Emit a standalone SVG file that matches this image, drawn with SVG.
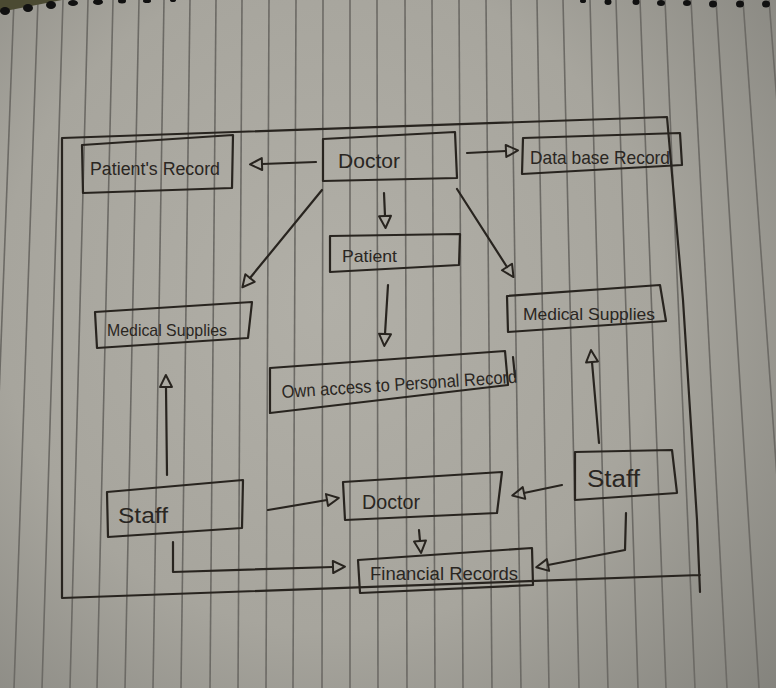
<svg xmlns="http://www.w3.org/2000/svg" width="776" height="688" viewBox="0 0 776 688">
<style>
.ink{fill:none;stroke:#28241f;stroke-width:2.2;stroke-linejoin:round;stroke-linecap:round}
.rule{stroke:#6c6a65;stroke-width:1.6}
.lbl{font-family:"Liberation Sans","DejaVu Sans",sans-serif;fill:#2a2622;lengthAdjust:spacingAndGlyphs}
.hole{fill:#111}
</style>
<defs>
<radialGradient id="paper" cx="330" cy="300" r="600" gradientUnits="userSpaceOnUse">
<stop offset="0" stop-color="#b1afa7"/>
<stop offset="0.55" stop-color="#a7a59d"/>
<stop offset="1" stop-color="#83827c"/>
</radialGradient>
<marker id="tri" markerUnits="userSpaceOnUse" markerWidth="16" markerHeight="16" refX="0" refY="6" orient="auto" style="overflow:visible">
<path d="M0,0 L12,6 L0,12 Z" fill="none" stroke="#28241f" stroke-width="2" stroke-linejoin="round"/>
</marker>
</defs>

<g id="background">
<rect x="0" y="0" width="776" height="688" fill="url(#paper)"/>
<g class="rule">
<line x1="14" y1="0" x2="-12" y2="688"/>
<line x1="38" y1="0" x2="14" y2="688"/>
<line x1="63" y1="0" x2="42" y2="688"/>
<line x1="88" y1="0" x2="70" y2="688"/>
<line x1="113" y1="0" x2="97" y2="688"/>
<line x1="139" y1="0" x2="125" y2="688"/>
<line x1="164" y1="0" x2="153" y2="688"/>
<line x1="190" y1="0" x2="181" y2="688"/>
<line x1="216" y1="0" x2="210" y2="688"/>
<line x1="242" y1="0" x2="238" y2="688"/>
<line x1="269" y1="0" x2="266" y2="688"/>
<line x1="296" y1="0" x2="293" y2="688"/>
<line x1="323" y1="0" x2="322" y2="688"/>
<line x1="350" y1="0" x2="350" y2="688"/>
<line x1="377" y1="0" x2="378" y2="688"/>
<line x1="405" y1="0" x2="407" y2="688"/>
<line x1="432" y1="0" x2="435" y2="688"/>
<line x1="459" y1="0" x2="463" y2="688"/>
<line x1="486" y1="0" x2="492" y2="688"/>
<line x1="511" y1="0" x2="521" y2="688"/>
<line x1="537" y1="0" x2="549" y2="688"/>
<line x1="563" y1="0" x2="579" y2="688"/>
<line x1="590" y1="0" x2="608" y2="688"/>
<line x1="616" y1="0" x2="638" y2="688"/>
<line x1="640" y1="0" x2="666" y2="688"/>
<line x1="665" y1="0" x2="695" y2="688"/>
<line x1="691" y1="0" x2="727" y2="688"/>
<line x1="716" y1="0" x2="759" y2="688"/>
<line x1="743" y1="0" x2="792" y2="688"/>
<line x1="769" y1="0" x2="823" y2="688"/>
</g>
<path d="M0,0 L62,0 L0,12 Z" fill="#4b4a32"/>
<g class="hole">
<ellipse cx="5" cy="11" rx="5" ry="4"/>
<ellipse cx="28" cy="8" rx="5" ry="4"/>
<ellipse cx="51" cy="5" rx="5" ry="4"/>
<ellipse cx="73" cy="3" rx="5" ry="3"/>
<ellipse cx="98" cy="2" rx="5" ry="3"/>
<ellipse cx="122" cy="1" rx="4" ry="2.5"/>
<ellipse cx="147" cy="1" rx="4" ry="2"/>
<ellipse cx="173" cy="0" rx="3" ry="2"/>
<ellipse cx="583" cy="1" rx="3" ry="2"/>
<ellipse cx="608" cy="2" rx="3.5" ry="3"/>
<ellipse cx="636" cy="2" rx="3.5" ry="3"/>
<ellipse cx="661" cy="3" rx="4" ry="3"/>
<ellipse cx="687" cy="3" rx="4" ry="3"/>
<ellipse cx="713" cy="4" rx="4" ry="3.5"/>
<ellipse cx="740" cy="4" rx="4" ry="3.5"/>
<ellipse cx="766" cy="4" rx="4" ry="3.5"/>
</g>
</g>

<g id="frame">
<path class="ink" d="M62,138 L667,117 L683,300 L697,520 L700,592 M700,575 L62,598 L62,138"/>
</g>

<g id="connectors">
<path class="ink" marker-end="url(#tri)" d="M316,162 L262,164"/>
<path class="ink" marker-end="url(#tri)" d="M467,153 L506,151"/>
<path class="ink" marker-end="url(#tri)" d="M384,193 L385,216"/>
<path class="ink" marker-end="url(#tri)" d="M322,190 L250,278"/>
<path class="ink" marker-end="url(#tri)" d="M457,189 L507,267"/>
<path class="ink" marker-end="url(#tri)" d="M388,285 L385,334"/>
<path class="ink" marker-end="url(#tri)" d="M599,443 L592,362"/>
<path class="ink" marker-end="url(#tri)" d="M167,475 L166,387"/>
<path class="ink" marker-end="url(#tri)" d="M268,510 L327,500"/>
<path class="ink" marker-end="url(#tri)" d="M562,485 L524,493"/>
<path class="ink" marker-end="url(#tri)" d="M419,530 L420,541"/>
<path class="ink" marker-end="url(#tri)" d="M173,542 L173,572 L333,567"/>
<path class="ink" marker-end="url(#tri)" d="M626,513 L625,550 L548,565"/>
</g>

<g id="patients-record">
<path class="ink" d="M82,145 L233,135 L232,188 L83,193 Z"/>
<text class="lbl" x="90" y="175" font-size="18" textLength="130" lengthAdjust="spacingAndGlyphs">Patient's Record</text>
</g>
<g id="doctor-top">
<path class="ink" d="M323,139 L455,132 L457,178 L323,181 Z"/>
<text class="lbl" x="338" y="168" font-size="20" textLength="62" lengthAdjust="spacingAndGlyphs">Doctor</text>
</g>
<g id="database-record">
<path class="ink" d="M523,138 L680,133 L682,165 L522,174 Z"/>
<text class="lbl" x="530" y="164" font-size="19" textLength="140" lengthAdjust="spacingAndGlyphs">Data base Record</text>
</g>
<g id="patient">
<path class="ink" d="M330,236 L460,234 L459,265 L330,272 Z"/>
<text class="lbl" x="342" y="262" font-size="17" textLength="55" lengthAdjust="spacingAndGlyphs">Patient</text>
</g>
<g id="medical-supplies-left">
<path class="ink" d="M95,312 L252,302 L248,338 L97,348 Z"/>
<text class="lbl" x="107" y="336" font-size="17" textLength="120" lengthAdjust="spacingAndGlyphs">Medical Supplies</text>
</g>
<g id="medical-supplies-right">
<path class="ink" d="M507,296 L660,285 L666,321 L508,332 Z"/>
<text class="lbl" x="523" y="320" font-size="17" textLength="132" lengthAdjust="spacingAndGlyphs">Medical Supplies</text>
</g>
<g id="own-access">
<path class="ink" d="M270,368 L505,351 L508,385 L270,413 Z"/>
<path class="ink" d="M513,357 L515,377"/>
<text class="lbl" x="282" y="398" font-size="18" textLength="236" lengthAdjust="spacingAndGlyphs" transform="rotate(-3.7 282 398)">Own access to Personal Record</text>
</g>
<g id="staff-left">
<path class="ink" d="M107,492 L243,480 L242,528 L108,537 Z"/>
<text class="lbl" x="118" y="523" font-size="22" textLength="50" lengthAdjust="spacingAndGlyphs">Staff</text>
</g>
<g id="doctor-bottom">
<path class="ink" d="M343,482 L502,472 L497,513 L345,520 Z"/>
<text class="lbl" x="362" y="509" font-size="20" textLength="58" lengthAdjust="spacingAndGlyphs">Doctor</text>
</g>
<g id="staff-right">
<path class="ink" d="M575,452 L672,450 L677,493 L575,500 Z"/>
<text class="lbl" x="587" y="487" font-size="23" textLength="53" lengthAdjust="spacingAndGlyphs">Staff</text>
</g>
<g id="financial-records">
<path class="ink" d="M358,560 L532,548 L533,585 L360,593 Z"/>
<text class="lbl" x="370" y="580" font-size="18" textLength="148" lengthAdjust="spacingAndGlyphs">Financial Records</text>
</g>
</svg>
